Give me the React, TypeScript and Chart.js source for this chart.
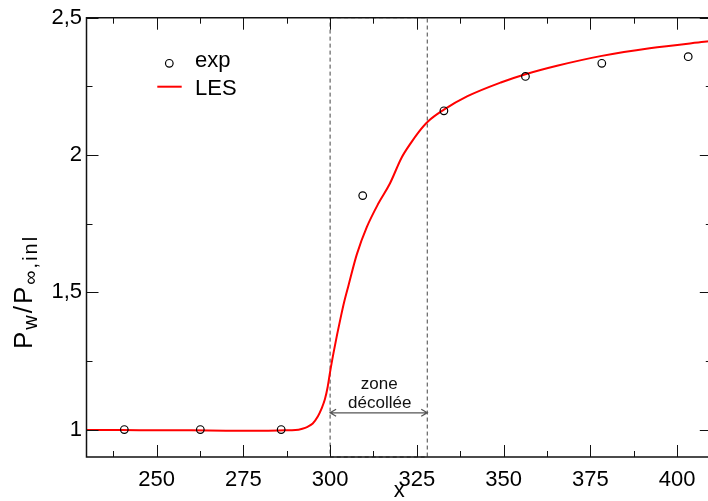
import React, { useEffect, useRef } from "react";
import { Chart, registerables } from "chart.js";

Chart.register(...registerables);

// ---- data ----
const expX = [240.7, 262.6, 285.9, 309.4, 332.8, 356.3, 378.3, 403.2];
const expY = [1.0, 1.0, 1.0, 1.852, 2.161, 2.286, 2.334, 2.358];

const lesX = [229.8, 240, 250, 260, 270, 280, 287, 290, 292, 293.5, 295, 296.5, 297.5, 298.5, 299.3, 300, 301, 302, 303, 304, 305.3, 307.7, 310.6, 313.9, 317.2, 320.6, 323.4, 325.3, 328.2, 332.8, 339.6, 349.2, 356.3, 365.4, 378.3, 392.1, 407.8, 410];
const lesY = [0.998, 0.998, 0.997, 0.997, 0.996, 0.996, 0.997, 0.998, 1.003, 1.01, 1.022, 1.048, 1.075, 1.11, 1.155, 1.21, 1.28, 1.345, 1.405, 1.462, 1.525, 1.638, 1.738, 1.823, 1.895, 1.99, 2.046, 2.08, 2.122, 2.165, 2.214, 2.264, 2.294, 2.325, 2.361, 2.389, 2.412, 2.415];

const xTicks = [250, 275, 300, 325, 350, 375, 400];
const xMinor = [237.5, 262.5, 287.5, 312.5, 337.5, 362.5, 387.5];
const yTicks = [1, 1.5, 2, 2.5];
const yMinor = [1.25, 1.75, 2.25];

const zoneBounds = [300, 328];
const zoneArrowY = 1.061;
const zoneLabel = ["zone", "décollée"];

const legendLabels = ["exp", "LES"];
const xTitle = "x";

const FONT = "'Liberation Sans', Arial, Helvetica, sans-serif";
const fmt = (v: number) => String(v).replace(".", ",");

const decor = {
  id: "decor",
  beforeDatasetsDraw(chart: any) {
    const { ctx, chartArea, scales } = chart;
    const xs = scales.x, ys = scales.y;
    const x0 = xs.getPixelForValue(zoneBounds[0]);
    const x1 = xs.getPixelForValue(zoneBounds[1]);
    ctx.save();
    ctx.strokeStyle = "#444";
    ctx.lineWidth = 1;
    ctx.setLineDash([4, 3]);
    ctx.beginPath();
    ctx.rect(x0, chartArea.top, x1 - x0, chartArea.bottom - chartArea.top);
    ctx.stroke();
    ctx.setLineDash([]);
    // arrow
    const ay = ys.getPixelForValue(zoneArrowY);
    ctx.strokeStyle = "#555";
    ctx.lineWidth = 1.3;
    ctx.beginPath();
    ctx.moveTo(x0, ay);
    ctx.lineTo(x1, ay);
    ctx.moveTo(x0 + 6, ay - 3.5);
    ctx.lineTo(x0, ay);
    ctx.lineTo(x0 + 6, ay + 3.5);
    ctx.moveTo(x1 - 6, ay - 3.5);
    ctx.lineTo(x1, ay);
    ctx.lineTo(x1 - 6, ay + 3.5);
    ctx.stroke();
    ctx.fillStyle = "#111";
    ctx.font = `17px ${FONT}`;
    ctx.textAlign = "center";
    ctx.textBaseline = "alphabetic";
    const cx = (x0 + x1) / 2;
    ctx.fillText(zoneLabel[0], cx + 0.5, ay - 23.5);
    ctx.fillText(zoneLabel[1], cx + 1, ay - 4.3);
    ctx.restore();
  },
  afterDatasetsDraw(chart: any) {
    const { ctx, chartArea, scales } = chart;
    const xs = scales.x, ys = scales.y;
    const { left, right, top, bottom } = chartArea;
    ctx.save();
    ctx.strokeStyle = "#111";
    ctx.lineWidth = 1.5;
    ctx.beginPath();
    ctx.moveTo(left, top);
    ctx.lineTo(right, top);
    ctx.lineTo(right, bottom);
    ctx.lineTo(left, bottom);
    ctx.closePath();
    ctx.stroke();
    ctx.lineWidth = 1;
    ctx.beginPath();
    const major = 12, minor = 6;
    xTicks.forEach((v) => {
      const p = Math.round(xs.getPixelForValue(v)) + 0.5;
      ctx.moveTo(p, bottom); ctx.lineTo(p, bottom - major);
      ctx.moveTo(p, top); ctx.lineTo(p, top + major);
    });
    xMinor.forEach((v) => {
      const p = Math.round(xs.getPixelForValue(v)) + 0.5;
      ctx.moveTo(p, bottom); ctx.lineTo(p, bottom - minor);
      ctx.moveTo(p, top); ctx.lineTo(p, top + minor);
    });
    yTicks.forEach((v) => {
      const p = Math.round(ys.getPixelForValue(v)) + 0.5;
      ctx.moveTo(left, p); ctx.lineTo(left + major, p);
      ctx.moveTo(right, p); ctx.lineTo(right - major, p);
    });
    yMinor.forEach((v) => {
      const p = Math.round(ys.getPixelForValue(v)) + 0.5;
      ctx.moveTo(left, p); ctx.lineTo(left + minor, p);
      ctx.moveTo(right, p); ctx.lineTo(right - minor, p);
    });
    ctx.stroke();

    // legend
    ctx.fillStyle = "#000";
    ctx.font = `22px ${FONT}`;
    ctx.textAlign = "left";
    ctx.textBaseline = "alphabetic";
    ctx.strokeStyle = "#000";
    ctx.lineWidth = 1.2;
    ctx.beginPath();
    ctx.arc(169.3, 63.3, 3.8, 0, Math.PI * 2);
    ctx.stroke();
    ctx.fillText(legendLabels[0], 195, 66.7);
    ctx.strokeStyle = "#ff0000";
    ctx.lineWidth = 2;
    ctx.beginPath();
    ctx.moveTo(157.3, 86.7);
    ctx.lineTo(181.7, 86.7);
    ctx.stroke();
    ctx.fillText(legendLabels[1], 195, 95);

    // x title
    ctx.textAlign = "center";
    ctx.fillText(xTitle, (left + right) / 2, 497);

    // y title (rotated with subscripts)
    ctx.save();
    ctx.translate(32, 349);
    ctx.rotate(-Math.PI / 2);
    ctx.textAlign = "left";
    (ctx as any).letterSpacing = "2px";
    const segs: [string, boolean][] = [["P", false], ["w", true], ["/P", false], ["\u221E,inl", true]];
    let cur = 0;
    segs.forEach(([t, sub]) => {
      ctx.font = sub ? `20px ${FONT}` : `26px ${FONT}`;
      ctx.fillText(t, cur, sub ? 5 : 0);
      cur += ctx.measureText(t).width;
    });
    (ctx as any).letterSpacing = "0px";
    ctx.restore();
    ctx.restore();
  },
};

export default function App() {
  const ref = useRef<HTMLCanvasElement>(null);
  useEffect(() => {
    if (!ref.current) return;
    const chart = new Chart(ref.current, {
      type: "scatter",
      data: {
        datasets: [
          {
            label: legendLabels[0],
            data: expX.map((x, i) => ({ x, y: expY[i] })),
            pointStyle: "circle",
            pointRadius: 3.8,
            pointBorderWidth: 1.2,
            borderColor: "#000",
            backgroundColor: "rgba(0,0,0,0)",
            showLine: false,
          },
          {
            label: legendLabels[1],
            data: lesX.map((x, i) => ({ x, y: lesY[i] })),
            borderColor: "#ff0000",
            backgroundColor: "#ff0000",
            borderWidth: 2,
            pointRadius: 0,
            showLine: true,
            cubicInterpolationMode: "monotone",
          } as any,
        ],
      },
      options: {
        animation: false,
        responsive: false,
        devicePixelRatio: 1,
        layout: { padding: { top: 16.5, right: 0.5, left: 0, bottom: 0 } },
        plugins: { legend: { display: false }, tooltip: { enabled: false } },
        scales: {
          x: {
            type: "linear",
            min: 229.8,
            max: 410,
            grid: { display: false, drawTicks: false },
            border: { display: false },
            afterBuildTicks: (s: any) => { s.ticks = xTicks.map((v) => ({ value: v })); },
            afterFit: (s: any) => { s.height = 44; },
            ticks: {
              font: { family: FONT, size: 22 },
              color: "#000",
              padding: 9.6,
              maxRotation: 0,
              autoSkip: false,
              callback: (v: any) => fmt(v),
            },
          },
          y: {
            type: "linear",
            min: 0.9,
            max: 2.5,
            grid: { display: false, drawTicks: false },
            border: { display: false },
            afterBuildTicks: (s: any) => { s.ticks = yTicks.map((v) => ({ value: v })); },
            afterFit: (s: any) => { s.width = 86.5; },
            ticks: {
              font: { family: FONT, size: 22 },
              color: "#000",
              padding: 4.5,
              autoSkip: false,
              callback: (v: any) => fmt(v),
            },
          },
        },
      },
      plugins: [decor],
    });
    return () => chart.destroy();
  }, []);
  return (
    <div style={{ position: "fixed", left: 0, top: 0, width: 708, height: 501, overflow: "hidden", background: "#fff" }}>
      <canvas ref={ref} width={717} height={501} style={{ display: "block" }} />
    </div>
  );
}
